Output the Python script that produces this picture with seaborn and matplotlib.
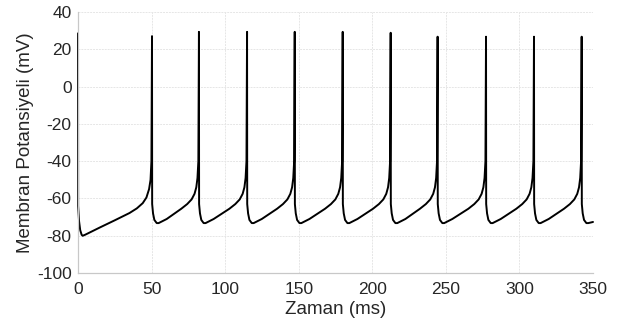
import matplotlib
matplotlib.use("Agg")
import matplotlib.pyplot as plt
import seaborn as sns
import pandas as pd

# Membrane potential trace (vertices)
time_ms = [
    0.0, 0.1, 0.7, 1.5, 2.5, 3.2, 5.0, 15.0, 25.0, 35.0, 40.0, 44.0, 46.5, 48.3, 49.3, 49.9,
    50.3, 50.4, 51.0, 51.9, 53.5, 54.8, 60.3, 70.2, 74.2, 77.2, 79.2, 80.4, 81.2, 81.8,
    82.2, 82.3, 82.9, 83.8, 85.4, 86.7, 92.2, 102.9, 106.9, 109.9, 111.9, 113.1, 113.9, 114.5,
    114.9, 115.0, 115.6, 116.5, 118.1, 119.4, 124.9, 135.3, 139.3, 142.3, 144.3, 145.5, 146.3, 146.9,
    147.3, 147.4, 148.0, 148.9, 150.5, 151.8, 157.3, 167.9, 171.9, 174.9, 176.9, 178.1, 178.9, 179.5,
    179.9, 180.0, 180.6, 181.5, 183.1, 184.4, 189.9, 200.5, 204.5, 207.5, 209.5, 210.7, 211.5, 212.1,
    212.5, 212.6, 213.2, 214.1, 215.7, 217.0, 222.5, 232.4, 236.4, 239.4, 241.4, 242.6, 243.4, 244.0,
    244.4, 244.5, 245.1, 246.0, 247.6, 248.9, 254.4, 265.3, 269.3, 272.3, 274.3, 275.5, 276.3, 276.9,
    277.3, 277.4, 278.0, 278.9, 280.5, 281.8, 287.3, 297.9, 301.9, 304.9, 306.9, 308.1, 308.9, 309.5,
    309.9, 310.0, 310.6, 311.5, 313.1, 314.4, 319.9, 330.3, 334.3, 337.3, 339.3, 340.5, 341.3, 341.9,
    342.3, 342.4, 343.0, 343.9, 345.5, 346.8, 350.0,
]
v_mv = [
    28.6, -64.0, -72.0, -77.0, -79.5, -80.0, -79.4, -75.5, -71.7, -67.8, -65.3, -62.5, -59.5, -55.0, -50.0, -40.0,
    27.1, -63.0, -68.0, -71.5, -73.2, -73.2, -71.0, -65.5, -63.0, -60.5, -57.5, -54.0, -49.0, -40.0,
    29.4, -63.0, -68.0, -71.5, -73.2, -73.2, -71.0, -65.5, -63.0, -60.5, -57.5, -54.0, -49.0, -40.0,
    29.4, -63.0, -68.0, -71.5, -73.2, -73.2, -71.0, -65.5, -63.0, -60.5, -57.5, -54.0, -49.0, -40.0,
    29.4, -63.0, -68.0, -71.5, -73.2, -73.2, -71.0, -65.5, -63.0, -60.5, -57.5, -54.0, -49.0, -40.0,
    29.4, -63.0, -68.0, -71.5, -73.2, -73.2, -71.0, -65.5, -63.0, -60.5, -57.5, -54.0, -49.0, -40.0,
    28.9, -63.0, -68.0, -71.5, -73.2, -73.2, -71.0, -65.5, -63.0, -60.5, -57.5, -54.0, -49.0, -40.0,
    26.8, -63.0, -68.0, -71.5, -73.2, -73.2, -71.0, -65.5, -63.0, -60.5, -57.5, -54.0, -49.0, -40.0,
    26.8, -63.0, -68.0, -71.5, -73.2, -73.2, -71.0, -65.5, -63.0, -60.5, -57.5, -54.0, -49.0, -40.0,
    26.8, -63.0, -68.0, -71.5, -73.2, -73.2, -71.0, -65.5, -63.0, -60.5, -57.5, -54.0, -49.0, -40.0,
    26.8, -63.0, -68.0, -71.5, -73.2, -73.2, -72.6,
]

x_ticks = [0, 50, 100, 150, 200, 250, 300, 350]
y_ticks = [-100, -80, -60, -40, -20, 0, 20, 40]
x_label = "Zaman (ms)"
y_label = "Membran Potansiyeli (mV)"

sns.set_style("white")
plt.rcParams["font.family"] = ["Liberation Sans", "DejaVu Sans"]

fig = plt.figure(figsize=(6.19, 3.27), dpi=100)
ax = fig.add_axes([0.126, 0.165, 0.832, 0.798])

df = pd.DataFrame({"t": time_ms, "v": v_mv})
sns.lineplot(data=df, x="t", y="v", ax=ax, color="black", linewidth=1.4,
             estimator=None, sort=False)
for ln in ax.get_lines():
    ln.set_clip_on(False)

ax.set_xlim(0, 350)
ax.set_ylim(-100, 40)
ax.set_xticks(x_ticks)
ax.set_yticks(y_ticks)
ax.set_xticklabels([str(v) for v in x_ticks])
ax.set_yticklabels([str(v) for v in y_ticks])

ax.grid(True, color="#e6e6e6", linewidth=0.7, linestyle=(0, (2, 1)))
ax.set_axisbelow(True)

for s in ["top", "right"]:
    ax.spines[s].set_visible(False)
for s in ["left", "bottom"]:
    ax.spines[s].set_color("#c8c8c8")
    ax.spines[s].set_linewidth(0.9)

ax.tick_params(axis="x", length=0, pad=6.5, labelsize=12.5, labelcolor="#262626")
ax.tick_params(axis="y", length=0, pad=4.5, labelsize=12.5, labelcolor="#262626")
ax.set_xlabel(x_label, fontsize=13.5, color="#262626", labelpad=3)
ax.set_ylabel(y_label, fontsize=13.5, color="#262626", labelpad=2)

fig.savefig("out.png", dpi=100)
